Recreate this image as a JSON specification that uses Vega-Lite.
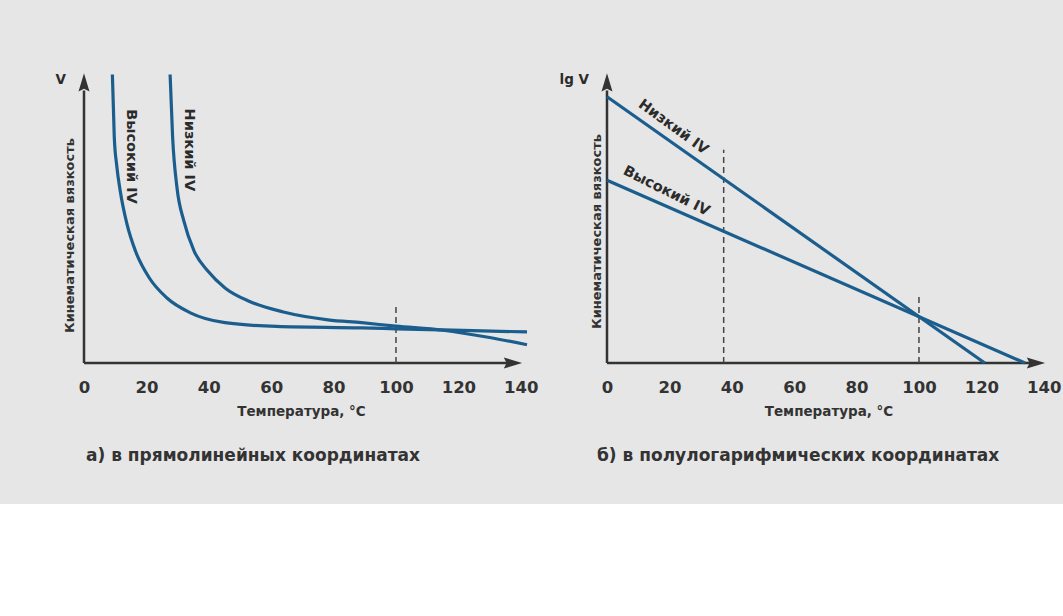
{
  "$schema": "https://vega.github.io/schema/vega-lite/v6.json",
  "background": "#e6e6e6",
  "padding": {"left": 55, "top": 68, "right": 10, "bottom": 40},
  "config": {
    "font": "DejaVu Sans",
    "view": {"stroke": null},
    "concat": {"spacing": 21}
  },
  "datasets": {
    "axesL": [
      {"T": 0, "T2": 136, "v": 0, "v2": 0},
      {"T": 0, "T2": 0, "v": 0, "v2": 94}
    ],
    "arrowsL": [
      {"T": 0, "v": 96.8, "dir": "up"},
      {"T": 137.5, "v": 0, "dir": "right"}
    ],
    "dashL": [{"T": 100, "v": 0, "v2": 19.3}],
    "curvesL": [
      {"s": "Высокий IV", "T": 9.1, "v": 99.5},
      {"s": "Высокий IV", "T": 9.7, "v": 78},
      {"s": "Высокий IV", "T": 10.5, "v": 68},
      {"s": "Высокий IV", "T": 11.6, "v": 59.4},
      {"s": "Высокий IV", "T": 13.8, "v": 47.8},
      {"s": "Высокий IV", "T": 16.5, "v": 38.6},
      {"s": "Высокий IV", "T": 20.9, "v": 29.4},
      {"s": "Высокий IV", "T": 26.5, "v": 22.5},
      {"s": "Высокий IV", "T": 34.1, "v": 17.3},
      {"s": "Высокий IV", "T": 45.2, "v": 13.9},
      {"s": "Высокий IV", "T": 61.7, "v": 12.6},
      {"s": "Высокий IV", "T": 89, "v": 12.1},
      {"s": "Высокий IV", "T": 100, "v": 11.8},
      {"s": "Высокий IV", "T": 115, "v": 11.4},
      {"s": "Высокий IV", "T": 142, "v": 10.7},
      {"s": "Низкий IV", "T": 27.6, "v": 99.5},
      {"s": "Низкий IV", "T": 28.4, "v": 78},
      {"s": "Низкий IV", "T": 29.8, "v": 60.5},
      {"s": "Низкий IV", "T": 32, "v": 49},
      {"s": "Низкий IV", "T": 35.3, "v": 38.6},
      {"s": "Низкий IV", "T": 39.7, "v": 31.7},
      {"s": "Низкий IV", "T": 45.2, "v": 25.9},
      {"s": "Низкий IV", "T": 52.9, "v": 21.3},
      {"s": "Низкий IV", "T": 63.9, "v": 17.6},
      {"s": "Низкий IV", "T": 78.2, "v": 14.9},
      {"s": "Низкий IV", "T": 89, "v": 13.9},
      {"s": "Низкий IV", "T": 100, "v": 12.7},
      {"s": "Низкий IV", "T": 115, "v": 11.3},
      {"s": "Низкий IV", "T": 130, "v": 8.8},
      {"s": "Низкий IV", "T": 142, "v": 6.3}
    ],
    "labelsL": [
      {"s": "Высокий IV", "T": 15.1, "v": 71.2},
      {"s": "Низкий IV", "T": 33.5, "v": 73.5}
    ],
    "symL": [{"T": 0, "v": 97.5, "t": "V"}],
    "axesR": [
      {"T": 0, "T2": 136, "v": 0, "v2": 0},
      {"T": 0, "T2": 0, "v": 0, "v2": 94}
    ],
    "arrowsR": [
      {"T": 0, "v": 96.8, "dir": "up"},
      {"T": 137.5, "v": 0, "dir": "right"}
    ],
    "dashR": [
      {"T": 37.4, "v": 0, "v2": 73.5},
      {"T": 100, "v": 0, "v2": 23}
    ],
    "linesR": [
      {"s": "Низкий IV", "T": 0, "v": 91.8},
      {"s": "Низкий IV", "T": 121.1, "v": 0},
      {"s": "Высокий IV", "T": 0, "v": 63.0},
      {"s": "Высокий IV", "T": 134, "v": 0}
    ],
    "labelsR": [
      {"s": "Низкий IV", "T": 21.2, "v": 81.3},
      {"s": "Высокий IV", "T": 19, "v": 59.2}
    ],
    "symR": [{"T": 0, "v": 97.5, "t": "lg V"}]
  },
  "hconcat": [
    {
      "width": 443,
      "height": 290,
      "title": {"text": "а) в прямолинейных координатах", "orient": "bottom", "anchor": "start", "frame": "group", "fontSize": 17, "fontWeight": "bold", "color": "#333333", "offset": 30, "dx": 2},
      "encoding": {
        "x": {"field": "T", "type": "quantitative", "scale": {"domain": [0, 142], "nice": false},
          "axis": {"values": [0, 20, 40, 60, 80, 100, 120, 140], "domain": false, "ticks": false, "grid": false, "labelFontSize": 16.5, "labelFontWeight": "bold", "labelColor": "#333333", "labelPadding": 16, "labelFlush": false, "labelOverlap": false, "title": "Температура, °C", "titleFontSize": 13.5, "titleFontWeight": "bold", "titleColor": "#333333", "titlePadding": 9, "titleX": 217}},
        "y": {"field": "v", "type": "quantitative", "scale": {"domain": [0, 100], "nice": false},
          "axis": {"domain": false, "ticks": false, "labels": false, "grid": false, "title": "Кинематическая вязкость", "titleFontSize": 13, "titleFontWeight": "bold", "titleColor": "#333333", "titlePadding": 8, "titleY": 162}}
      },
      "layer": [
        {
          "data": {"name": "axesL"},
          "mark": {"type": "rule", "color": "#333333", "strokeWidth": 2.5},
          "encoding": {"x2": {"field": "T2"}, "y2": {"field": "v2"}}
        },
        {
          "data": {"name": "arrowsL"},
          "mark": {"type": "point", "filled": true, "opacity": 1, "size": 335, "color": "#333333"},
          "encoding": {
            "shape": {"field": "dir", "type": "nominal", "scale": {"domain": ["up", "right"], "range": ["M0,-1L0.6,1L0,0.7L-0.6,1Z", "M1,0L-1,0.6L-0.7,0L-1,-0.6Z"]}, "legend": null}
          }
        },
        {
          "data": {"name": "dashL"},
          "mark": {"type": "rule", "color": "#444444", "strokeWidth": 1.5, "strokeDash": [6, 4]},
          "encoding": {"y2": {"field": "v2"}}
        },
        {
          "data": {"name": "curvesL"},
          "mark": {"type": "line", "color": "#1b5e8e", "strokeWidth": 3.2, "interpolate": "monotone"},
          "encoding": {"detail": {"field": "s", "type": "nominal"}}
        },
        {
          "data": {"name": "labelsL"},
          "mark": {"type": "text", "angle": 90, "fontSize": 14.5, "fontWeight": "bold", "color": "#2b2b2b", "align": "center", "baseline": "middle"},
          "encoding": {"text": {"field": "s"}}
        },
        {
          "data": {"name": "symL"},
          "mark": {"type": "text", "fontSize": 13.5, "fontWeight": "bold", "color": "#2b2b2b", "align": "right", "baseline": "middle", "dx": -18},
          "encoding": {"text": {"field": "t"}}
        }
      ]
    },
    {
      "width": 443,
      "height": 290,
      "title": {"text": "б) в полулогарифмических координатах", "orient": "bottom", "anchor": "start", "frame": "group", "fontSize": 17, "fontWeight": "bold", "color": "#333333", "offset": 30, "dx": -10},
      "encoding": {
        "x": {"field": "T", "type": "quantitative", "scale": {"domain": [0, 142], "nice": false},
          "axis": {"values": [0, 20, 40, 60, 80, 100, 120, 140], "domain": false, "ticks": false, "grid": false, "labelFontSize": 16.5, "labelFontWeight": "bold", "labelColor": "#333333", "labelPadding": 16, "labelFlush": false, "labelOverlap": false, "title": "Температура, °C", "titleFontSize": 13.5, "titleFontWeight": "bold", "titleColor": "#333333", "titlePadding": 9}},
        "y": {"field": "v", "type": "quantitative", "scale": {"domain": [0, 100], "nice": false},
          "axis": {"domain": false, "ticks": false, "labels": false, "grid": false, "title": "Кинематическая вязкость", "titleFontSize": 13, "titleFontWeight": "bold", "titleColor": "#333333", "titlePadding": 4, "titleY": 158}}
      },
      "layer": [
        {
          "data": {"name": "axesR"},
          "mark": {"type": "rule", "color": "#333333", "strokeWidth": 2.5},
          "encoding": {"x2": {"field": "T2"}, "y2": {"field": "v2"}}
        },
        {
          "data": {"name": "arrowsR"},
          "mark": {"type": "point", "filled": true, "opacity": 1, "size": 335, "color": "#333333"},
          "encoding": {
            "shape": {"field": "dir", "type": "nominal", "scale": {"domain": ["up", "right"], "range": ["M0,-1L0.6,1L0,0.7L-0.6,1Z", "M1,0L-1,0.6L-0.7,0L-1,-0.6Z"]}, "legend": null}
          }
        },
        {
          "data": {"name": "dashR"},
          "mark": {"type": "rule", "color": "#444444", "strokeWidth": 1.5, "strokeDash": [6, 4]},
          "encoding": {"y2": {"field": "v2"}}
        },
        {
          "data": {"name": "linesR"},
          "mark": {"type": "line", "color": "#1b5e8e", "strokeWidth": 3.2},
          "encoding": {"detail": {"field": "s", "type": "nominal"}}
        },
        {
          "data": {"name": "labelsR"},
          "transform": [{"filter": "datum.s === 'Низкий IV'"}],
          "mark": {"type": "text", "angle": 36, "fontSize": 14.5, "fontWeight": "bold", "color": "#2b2b2b", "align": "center", "baseline": "middle"},
          "encoding": {"text": {"field": "s"}}
        },
        {
          "data": {"name": "labelsR"},
          "transform": [{"filter": "datum.s === 'Высокий IV'"}],
          "mark": {"type": "text", "angle": 26.5, "fontSize": 14.5, "fontWeight": "bold", "color": "#2b2b2b", "align": "center", "baseline": "middle"},
          "encoding": {"text": {"field": "s"}}
        },
        {
          "data": {"name": "symR"},
          "mark": {"type": "text", "fontSize": 13.5, "fontWeight": "bold", "color": "#2b2b2b", "align": "right", "baseline": "middle", "dx": -18},
          "encoding": {"text": {"field": "t"}}
        }
      ]
    }
  ]
}
